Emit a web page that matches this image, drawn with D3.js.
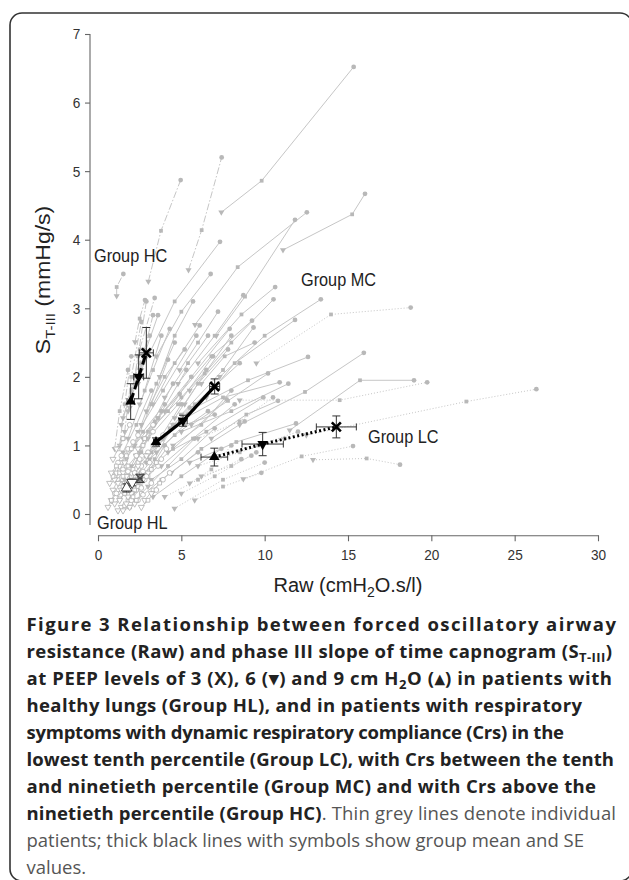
<!DOCTYPE html>
<html>
<head>
<meta charset="utf-8">
<script src="https://cdn.jsdelivr.net/npm/d3@7"></script>
<style>
  body { margin: 0; background: #fff; }
  svg { display: block; }
</style>
</head>
<body>
<div id="chart"></div>
<script>
// axis ticks
const xTicks = [0, 5, 10, 15, 20, 25, 30];
const yTicks = [0, 1, 2, 3, 4, 5, 6, 7];

// individual patients, each row: [Raw, S] at PEEP 9, PEEP 6, PEEP 3
const patientsHL = [
  [1.0, 0.15, 1.3, 0.22, 1.6, 0.3], [1.2, 0.3, 1.5, 0.4, 2.0, 0.55], [1.4, 0.1, 1.8, 0.2, 2.3, 0.35],
  [1.6, 0.45, 2.0, 0.55, 2.6, 0.7], [0.9, 0.35, 1.2, 0.5, 1.5, 0.65], [1.8, 0.25, 2.2, 0.35, 2.8, 0.5],
  [2.0, 0.6, 2.4, 0.75, 3.0, 0.9], [1.1, 0.6, 1.4, 0.75, 1.8, 0.95], [2.2, 0.15, 2.6, 0.3, 3.2, 0.45],
  [1.5, 0.05, 1.9, 0.1, 2.4, 0.2], [2.5, 0.4, 3.0, 0.55, 3.6, 0.7], [1.3, 0.7, 1.7, 0.85, 2.1, 1.05],
  [0.8, 0.2, 1.0, 0.3, 1.3, 0.45], [2.4, 0.7, 2.9, 0.85, 3.4, 1.0], [1.9, 0.1, 2.3, 0.2, 2.7, 0.28],
  [1.7, 0.55, 2.1, 0.65, 2.5, 0.8], [2.8, 0.2, 3.3, 0.35, 3.9, 0.5], [1.0, 0.5, 1.3, 0.6, 1.7, 0.7],
  [2.1, 0.45, 2.6, 0.6, 3.1, 0.75], [1.4, 0.35, 1.7, 0.45, 2.2, 0.6], [0.7, 0.45, 0.9, 0.55, 1.2, 0.75],
  [2.3, 0.85, 2.7, 1.0, 3.3, 1.2], [1.6, 0.75, 2.0, 0.95, 2.4, 1.15], [3.0, 0.6, 3.5, 0.75, 4.1, 0.95],
  [1.2, 0.05, 1.6, 0.12, 2.0, 0.2], [0.6, 0.1, 0.8, 0.2, 1.1, 0.3], [1.3, 0.2, 1.6, 0.3, 1.9, 0.4],
  [2.6, 0.1, 3.0, 0.2, 3.5, 0.35], [1.8, 0.4, 2.2, 0.5, 2.7, 0.62], [0.9, 0.8, 1.2, 0.95, 1.5, 1.1],
  [2.7, 0.5, 3.2, 0.65, 3.8, 0.8], [1.5, 0.6, 1.8, 0.7, 2.3, 0.85], [2.0, 0.3, 2.4, 0.4, 2.9, 0.55],
  [1.1, 0.95, 1.5, 1.1, 1.9, 1.3], [3.2, 0.3, 3.7, 0.45, 4.3, 0.6], [0.8, 0.6, 1.1, 0.7, 1.4, 0.85],
  [2.4, 0.95, 2.8, 1.1, 3.3, 1.3], [1.7, 0.15, 2.1, 0.25, 2.6, 0.38], [1.2, 0.45, 1.5, 0.55, 1.8, 0.62],
  [2.9, 0.85, 3.3, 1.0, 3.9, 1.15]
];
const patientsHC = [
  [1.12, 3.18, 1.12, 3.31, 1.52, 3.5], [3.02, 3.39, 3.78, 4.13, 4.96, 4.87], [5.43, 3.56, 6.22, 4.14, 7.42, 5.2],
  [1.9, 1.55, 2.4, 2.3, 2.9, 3.1], [1.6, 1.2, 2.0, 2.0, 2.6, 2.8], [1.0, 0.95, 1.3, 1.5, 1.8, 2.1],
  [1.5, 1.4, 2.2, 2.0, 3.1, 2.6], [2.0, 1.7, 2.5, 2.4, 3.4, 3.15], [2.22, 2.51, 2.5, 2.85, 2.82, 3.12],
  [1.3, 1.0, 1.6, 1.6, 2.0, 2.3], [2.4, 1.9, 2.8, 2.4, 3.3, 2.9]
];
const patientsMC = [
  [7.4, 4.4, 9.82, 4.86, 15.34, 6.52], [2.6, 2.1, 4.6, 3.1, 7.32, 3.97], [5.82, 2.76, 8.38, 3.6, 12.53, 4.4],
  [7.1, 2.6, 8.82, 3.17, 11.82, 4.29], [11.1, 3.85, 15.25, 4.37, 16.02, 4.67], [3.5, 2.3, 5.0, 2.95, 6.76, 3.5],
  [6.0, 2.2, 8.61, 2.91, 10.63, 3.31], [4.8, 1.9, 7.0, 2.6, 8.72, 3.19], [5.5, 1.8, 8.0, 2.5, 10.53, 3.13],
  [7.3, 2.0, 10.0, 2.6, 13.37, 3.13], [4.0, 1.5, 6.8, 2.3, 9.24, 2.82], [6.5, 1.7, 8.2, 2.2, 11.82, 2.83],
  [5.0, 1.45, 7.5, 2.1, 9.33, 2.72], [3.3, 1.6, 4.6, 2.2, 6.1, 2.75], [8.5, 1.3, 12.42, 1.78, 15.95, 2.35],
  [5.8, 1.55, 9.0, 1.95, 12.6, 2.29], [11.5, 1.22, 15.72, 1.95, 18.96, 1.95], [4.5, 1.3, 7.5, 1.7, 10.9, 1.92],
  [5.0, 1.2, 8.0, 1.5, 11.42, 1.9], [3.0, 1.1, 4.8, 1.6, 6.9, 2.3], [2.5, 0.9, 3.6, 1.4, 5.3, 2.1],
  [3.8, 0.7, 5.7, 1.1, 8.2, 1.6], [4.2, 0.9, 6.5, 1.2, 9.92, 1.7], [2.8, 0.6, 4.5, 0.95, 7.72, 1.67],
  [3.2, 0.5, 5.0, 0.8, 7.0, 1.25], [2.0, 0.7, 3.0, 1.2, 4.5, 1.9], [2.2, 1.0, 3.2, 1.6, 4.2, 2.25],
  [2.6, 1.3, 3.5, 1.9, 4.6, 2.5], [1.8, 1.1, 2.8, 1.8, 3.8, 2.6], [4.5, 1.0, 6.2, 1.3, 8.0, 1.8],
  [3.0, 0.4, 4.2, 0.7, 5.8, 1.1], [2.4, 0.45, 3.4, 0.8, 4.5, 1.3], [5.5, 0.75, 8.3, 1.05, 11.88, 1.32],
  [3.4, 1.3, 5.0, 1.7, 6.5, 2.1], [2.9, 1.5, 4.0, 2.0, 5.2, 2.4], [4.0, 1.7, 5.4, 2.2, 6.6, 2.6],
  [1.6, 0.5, 2.6, 0.9, 3.8, 1.5], [2.1, 0.3, 3.0, 0.6, 4.0, 1.0], [1.5, 0.9, 2.3, 1.3, 3.2, 1.8],
  [2.7, 1.1, 4.2, 1.5, 5.6, 2.0], [1.9, 0.4, 3.2, 0.9, 5.0, 1.6], [3.5, 0.9, 5.2, 1.3, 7.0, 1.45],
  [2.3, 0.2, 3.8, 0.5, 6.0, 0.9], [1.4, 1.3, 2.0, 1.8, 2.9, 2.3], [4.6, 1.4, 6.0, 1.9, 7.8, 2.4],
  [3.1, 0.8, 4.3, 1.25, 5.5, 1.55], [2.0, 0.95, 3.4, 1.35, 4.9, 1.75], [5.2, 1.6, 6.4, 2.05, 8.0, 2.6],
  [3.9, 1.1, 5.8, 1.6, 8.5, 2.2], [2.4, 1.2, 3.9, 1.8, 5.9, 2.6], [3.6, 1.4, 5.6, 2.0, 7.9, 2.7],
  [5.6, 1.3, 7.8, 1.65, 10.2, 2.05], [2.2, 0.6, 3.6, 1.0, 5.4, 1.45], [4.4, 0.6, 6.2, 0.95, 8.8, 1.35],
  [1.7, 0.8, 2.7, 1.2, 4.0, 1.6], [3.7, 2.0, 4.6, 2.6, 5.7, 3.1], [6.2, 1.9, 7.6, 2.3, 9.4, 2.5],
  [2.9, 0.75, 4.6, 1.15, 6.6, 1.5], [1.8, 1.5, 2.6, 2.2, 3.6, 2.9], [4.9, 2.1, 6.0, 2.5, 7.2, 2.95],
  [3.3, 0.25, 5.0, 0.55, 7.4, 0.95], [6.8, 1.1, 8.9, 1.45, 10.8, 1.65], [2.5, 1.6, 3.3, 2.1, 4.3, 2.7]
];
const patientsLC = [
  [9.5, 2.2, 13.98, 2.91, 18.76, 3.01], [8.5, 1.66, 14.5, 1.66, 19.75, 1.92], [12.5, 1.15, 22.1, 1.64, 26.3, 1.82],
  [8.72, 0.51, 12.22, 0.84, 15.3, 0.99], [12.9, 0.79, 16.12, 0.81, 18.12, 0.72], [4.59, 0.08, 7.5, 0.5, 10.0, 0.75],
  [5.0, 0.3, 7.0, 0.55, 9.5, 0.9], [6.0, 0.7, 8.5, 0.9, 11.2, 1.1], [5.5, 0.45, 6.8, 0.65, 8.0, 1.0],
  [6.0, 1.1, 8.5, 1.35, 10.5, 1.7], [4.0, 0.25, 6.0, 0.5, 8.6, 0.8], [6.2, 0.55, 8.0, 0.7, 9.2, 0.85],
  [7.0, 0.85, 9.6, 1.0, 12.0, 1.2], [5.8, 0.2, 7.5, 0.4, 9.8, 0.6]
];

// group means with SE, each row: [Raw, S, SE Raw, SE S] for PEEP 9, 6, 3
const meanHL = [[1.72, 0.38, 0.1, 0.06], [2.05, 0.46, 0.1, 0.05], [2.52, 0.52, 0.12, 0.06]];
const meanHC = [[1.96, 1.64, 0.22, 0.26], [2.44, 2.0, 0.3, 0.32], [2.9, 2.35, 0.42, 0.37]];
const meanMC = [[3.48, 1.05, 0.15, 0.06], [5.1, 1.36, 0.25, 0.08], [7.0, 1.86, 0.3, 0.11]];
const meanLC = [[6.98, 0.83, 0.8, 0.13], [9.88, 1.02, 1.24, 0.17], [14.3, 1.27, 1.2, 0.16]];

const groupNames = ["Group HC", "Group MC", "Group LC", "Group HL"];

// caption runs: b = bold, s = bold subscript, r = regular grey
const captionLines = [
  [["Figure 3 Relationship between forced oscillatory airway", "b"]],
  [["resistance (Raw) and phase III slope of time capnogram (S", "b"], ["T-III", "s"], [")", "b"]],
  [["at PEEP levels of 3 (X), 6 (\u25BE) and 9 cm H", "b"], ["2", "s"], ["O (\u25B4) in patients with", "b"]],
  [["healthy lungs (Group HL), and in patients with respiratory", "b"]],
  [["symptoms with dynamic respiratory compliance (Crs) in the", "b"]],
  [["lowest tenth percentile (Group LC), with Crs between the tenth", "b"]],
  [["and ninetieth percentile (Group MC) and with Crs above the", "b"]],
  [["ninetieth percentile (Group HC)", "b"], [". Thin grey lines denote individual", "r"]],
  [["patients; thick black lines with symbols show group mean and SE", "r"]],
  [["values.", "r"]]
];
// right end of each caption line as typeset in the figure page
const captionEnds = [616, 612, 612, 582, 564, 614, 596, 616, 584, null];

const width = 629, height = 880;
const squeeze = 0.88; // the original figure is a bit narrow horizontally

const x = d3.scaleLinear().domain([0, 30]).range([98, 598]);
const y = d3.scaleLinear().domain([0, 7]).range([514, 34]);

const svg = d3.select("#chart").append("svg")
    .attr("width", width)
    .attr("height", height)
    .attr("font-family", "'Liberation Sans', Arial, sans-serif");

// frame
svg.append("rect")
    .attr("x", 10).attr("y", 13)
    .attr("width", 622).attr("height", 868)
    .attr("rx", 12)
    .attr("fill", "none")
    .attr("stroke", "#333")
    .attr("stroke-width", 1.6);

// axes
const yAxis = svg.append("g")
    .attr("transform", `translate(${x(0) - 8},0)`)
    .call(d3.axisLeft(y).tickValues(yTicks).tickFormat(d3.format("d"))
      .tickSize(5).tickSizeOuter(0).tickPadding(6));
yAxis.select(".domain").attr("d", `M0,${y(7)}V${y(-0.16)}`);

const xAxis = svg.append("g")
    .attr("transform", `translate(0,${y(-0.31)})`)
    .call(d3.axisBottom(x).tickValues(xTicks).tickFormat(d3.format("d"))
      .tickSize(6).tickSizeOuter(0).tickPadding(8));

for (const ax of [xAxis, yAxis]) {
  ax.selectAll(".domain, line").attr("stroke", "#666").attr("stroke-width", 1.1);
  ax.selectAll("text")
      .attr("fill", "#333")
      .attr("font-size", 15.5)
      .attr("font-family", "'Liberation Sans', Arial, sans-serif")
      .attr("transform", `scale(${squeeze},1)`);
}

function squeezed(px, py, str, size, anchor = "start") {
  return svg.append("text")
      .attr("transform", `translate(${px},${py}) scale(${squeeze},1)`)
      .attr("text-anchor", anchor)
      .attr("font-size", size)
      .attr("fill", "#222")
      .text(str);
}

// axis titles
const xTitle = svg.append("text")
    .attr("x", x(15)).attr("y", 592)
    .attr("text-anchor", "middle")
    .attr("font-size", 20)
    .attr("fill", "#222");
xTitle.append("tspan").text("Raw (cmH");
xTitle.append("tspan").attr("font-size", 14).attr("dy", 5).text("2");
xTitle.append("tspan").attr("dy", -5).text("O.s/l)");

const yTitle = svg.append("text")
    .attr("transform", `translate(50,280) scale(${squeeze},1) rotate(-90)`)
    .attr("text-anchor", "middle")
    .attr("font-size", 23)
    .attr("fill", "#222");
yTitle.append("tspan").text("S");
yTitle.append("tspan").attr("font-size", 15).attr("dy", 6).text("T-III");
yTitle.append("tspan").attr("dy", -6).text(" (mmHg/s)");

// individual patients
const asPoints = p => [[p[0], p[1]], [p[2], p[3]], [p[4], p[5]]];
const line = d3.line().x(d => x(d[0])).y(d => y(d[1]));
const greyLine = "#c6c6c6", greyMark = "#b8b8b8";

const groups = [
  {rows: patientsMC, dash: null, open: false},
  {rows: patientsLC, dash: "1,2", open: false},
  {rows: patientsHC, dash: "7,2,1.5,2", open: false},
  {rows: patientsHL, dash: null, open: true}
];

const markTypes = [d3.symbolTriangle, d3.symbolSquare, d3.symbolCircle];
const markSizes = [16, 14, 18];

for (const grp of groups) {
  const gg = svg.append("g");
  gg.selectAll("path.pl")
    .data(grp.rows.map(asPoints))
    .join("path")
      .attr("class", "pl")
      .attr("d", line)
      .attr("fill", "none")
      .attr("stroke", greyLine)
      .attr("stroke-width", 1)
      .attr("stroke-dasharray", grp.dash);
  grp.rows.map(asPoints).forEach(pts => {
    pts.forEach((d, i) => {
      gg.append("path")
        .attr("d", d3.symbol().type(markTypes[i]).size(markSizes[i])())
        .attr("transform", `translate(${x(d[0])},${y(d[1])})${i === 0 ? " rotate(180)" : ""}`)
        .attr("fill", grp.open ? "#fff" : greyMark)
        .attr("stroke", grp.open ? "#b0b0b0" : "none")
        .attr("stroke-width", 0.8);
    });
  });
}

// group means with SE bars
const means = [
  {rows: meanHL, dash: null, width: 1, color: "#444", open: true},
  {rows: meanLC, dash: "2,2.5", width: 3, color: "#000", open: false},
  {rows: meanMC, dash: null, width: 3.2, color: "#000", open: false},
  {rows: meanHC, dash: "9,4", width: 3, color: "#000", open: false}
];

for (const m of means) {
  const g = svg.append("g");
  // error bars
  m.rows.forEach(d => {
    const cx = x(d[0]), cy = y(d[1]);
    const x0 = x(d[0] - d[2]), x1 = x(d[0] + d[2]);
    const y0 = y(d[1] - d[3]), y1 = y(d[1] + d[3]);
    g.append("path")
      .attr("d", `M${x0},${cy}H${x1}M${x0},${cy - 3.5}V${cy + 3.5}M${x1},${cy - 3.5}V${cy + 3.5}` +
                 `M${cx},${y0}V${y1}M${cx - 4},${y0}H${cx + 4}M${cx - 4},${y1}H${cx + 4}`)
      .attr("fill", "none")
      .attr("stroke", "#333")
      .attr("stroke-width", 1);
  });
  g.append("path")
    .attr("d", line(m.rows))
    .attr("fill", "none")
    .attr("stroke", m.color)
    .attr("stroke-width", m.width)
    .attr("stroke-dasharray", m.dash);
  m.rows.forEach((d, i) => {
    const t = `translate(${x(d[0])},${y(d[1])})`;
    if (i < 2) {
      g.append("path")
        .attr("d", d3.symbol().type(d3.symbolTriangle).size(48)())
        .attr("transform", t + (i === 1 ? " rotate(180)" : ""))
        .attr("fill", m.open ? "#fff" : "#000")
        .attr("stroke", m.open ? "#444" : "none")
        .attr("stroke-width", 1);
    } else {
      g.append("path")
        .attr("d", "M-4.5,-4.5L4.5,4.5M-4.5,4.5L4.5,-4.5")
        .attr("transform", t)
        .attr("stroke", m.open ? "#444" : "#000")
        .attr("stroke-width", m.open ? 1.2 : 2.6);
    }
  });
}

// group labels, placed in data units
const labelAt = [[-0.24, 3.67], [12.18, 3.32], [16.2, 1.04], [-0.06, -0.22]];
groupNames.forEach((name, i) => {
  squeezed(x(labelAt[i][0]), y(labelAt[i][1]), name, 18.5);
});

// caption
const capLeft = 26.5;
const cap = svg.append("g")
    .attr("font-family", "'Open Sans', 'Noto Sans', sans-serif")
    .attr("font-size", 18.5);
captionLines.forEach((runs, li) => {
  const t = cap.append("text")
      .attr("x", capLeft)
      .attr("y", 631 + li * 27);
  let shifted = 0;
  runs.forEach(([str, kind]) => {
    const ts = t.append("tspan").text(str);
    if (kind === "s") {
      ts.attr("font-weight", 700).attr("fill", "#222").attr("font-size", 13).attr("dy", 4);
      shifted = 4;
    } else {
      if (shifted) { ts.attr("dy", -shifted); shifted = 0; }
      if (kind === "b") ts.attr("font-weight", 700).attr("fill", "#222");
      else ts.attr("font-weight", 400).attr("fill", "#555");
    }
  });
  if (captionEnds[li] != null) {
    t.attr("textLength", captionEnds[li] - capLeft).attr("lengthAdjust", "spacing");
  }
});
</script>
</body>
</html>
